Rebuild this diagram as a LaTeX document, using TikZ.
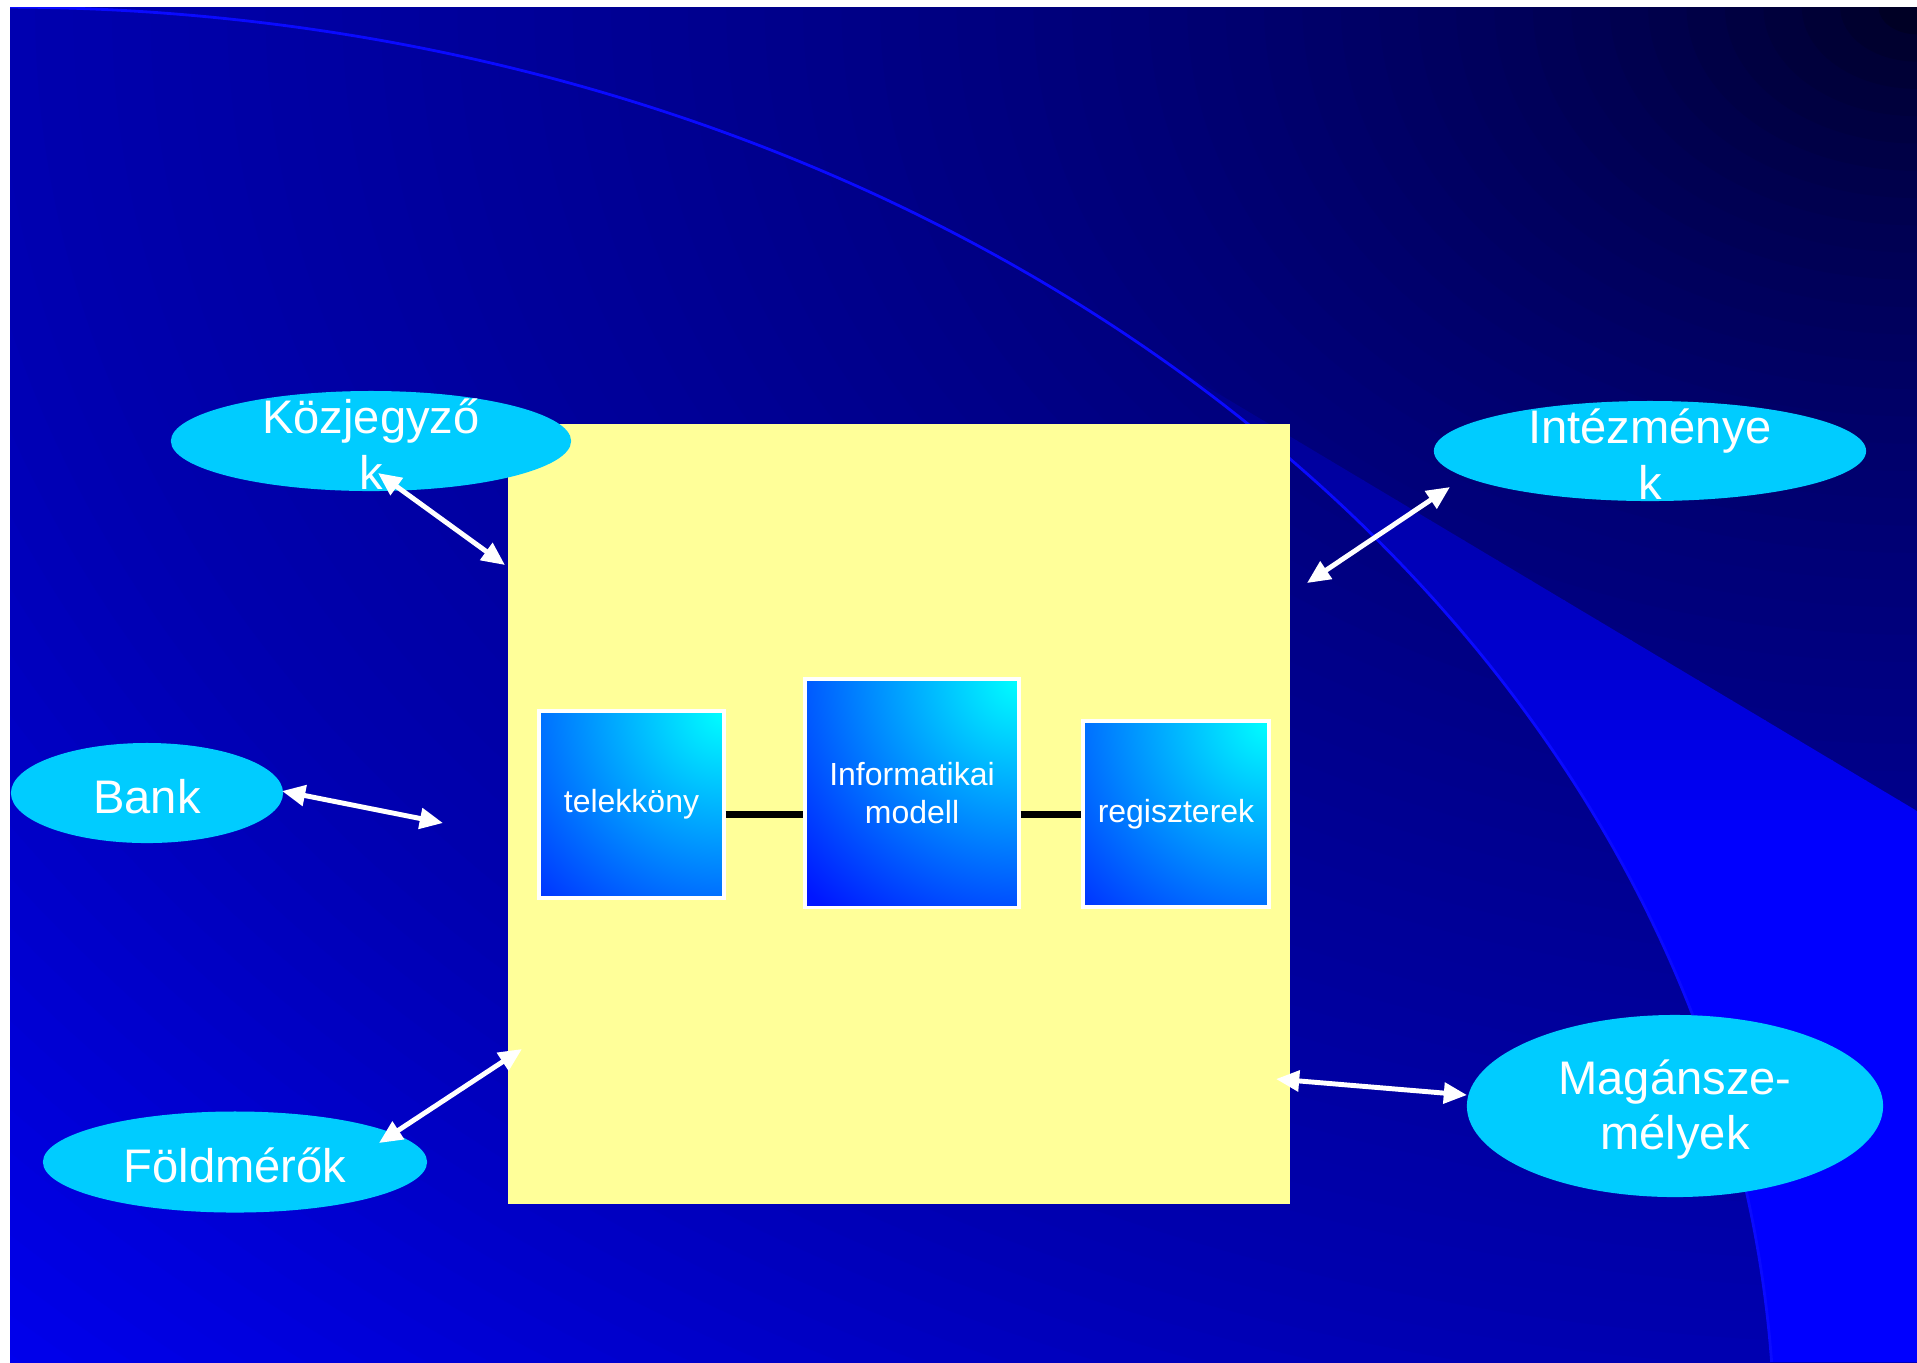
\documentclass[tikz,border=0pt]{standalone}
\usepackage{fontspec}
\setmainfont{Liberation Sans}
\usetikzlibrary{arrows.meta,shapes.geometric}
\definecolor{bubblecol}{RGB}{0,204,255}
\definecolor{panelcol}{RGB}{255,255,153}
\definecolor{boxblue}{RGB}{0,22,255}
\definecolor{boxcyan}{RGB}{0,255,255}
\definecolor{arccol}{RGB}{10,10,255}
\tikzset{
  bubble/.style={ellipse, fill=bubblecol, inner sep=0pt},
  bubbletext/.style={text=white, align=center, inner sep=0pt, yshift=-1pt, font=\fontsize{13.4pt}{15.9pt}\selectfont},
  gbox/.style={rectangle, draw=white, line width=0.9pt, inner sep=0pt, text=white, align=center,
     font=\fontsize{9.1pt}{10.8pt}\selectfont,
     path picture={\fill[boxblue] (path picture bounding box.south west) rectangle (path picture bounding box.north east);
       \shade[inner color=boxcyan, outer color=boxblue] (path picture bounding box.north east) circle (3.0cm);}},
  link/.style={line width=2pt, black},
  dbl/.style={white, line width=1.4pt, {Triangle[length=6.6pt,width=5.8pt]}-{Triangle[length=6.6pt,width=5.8pt]}},
}
\begin{document}
\begin{tikzpicture}[x=0.01cm, y=-0.01cm]
\useasboundingbox (0,0) rectangle (1917,1362);
\fill[white] (0,0) rectangle (1917,1362);
% background
\begin{scope}
\clip (10,7) rectangle (1917,1362);
\foreach \i in {0,...,71}{
  \pgfmathsetmacro\rr{1.45*(1-\i/72)}
  \pgfmathtruncatemacro\bb{ifthenelse(\rr<1, 15+160*sqrt(\rr), min(245,175+146*(\rr-1)))}
  \definecolor{bgc}{RGB}{0,0,\bb}
  \fill[bgc] (1917,7) ellipse [x radius=\rr*1907, y radius=\rr*1355];
}
\begin{scope}
\clip (1771.7,1361.9) arc[start angle=-3.5, end angle=-48.8, x radius=1775, y radius=1443] -- (1917,811) -- (1917,1362) -- cycle;
\foreach \y in {340,360,...,1360}{
  \pgfmathtruncatemacro\wb{min(255,max(140,150+0.25*(\y-420)))}
  \definecolor{wc}{RGB}{0,0,\wb}
  \fill[wc] (1100,\y) rectangle (1917,\y+21);
}
\end{scope}
\draw[arccol, line width=0.8pt] (0,7) arc[start angle=-90, end angle=-3.5, x radius=1775, y radius=1443];
\end{scope}
% panel
\node[rectangle, fill=panelcol, minimum width=7.82cm, minimum height=7.80cm, inner sep=0pt, anchor=north west] (sys) at (507,423) {};
% bubbles
\node[bubble, minimum width=4.0cm, minimum height=1.0cm] (kozj) at (371,441) {};
\node[bubbletext] (kozjT) at (kozj) {Közjegyző\\k};
\node[bubble, minimum width=4.32cm, minimum height=1.0cm] (inte) at (1650,451) {};
\node[bubbletext] (inteT) at (inte) {Intézménye\\k};
\node[bubble, minimum width=2.72cm, minimum height=1.0cm] (bank) at (147,793) {};
\node[bubbletext] (bankT) at (bank) {Bank};
\node[bubble, minimum width=3.84cm, minimum height=1.01cm] (fold) at (235,1162) {};
\node[bubbletext] (foldT) at (fold) {Földmérők};
\node[bubble, minimum width=4.16cm, minimum height=1.82cm] (magan) at (1675,1106) {};
\node[bubbletext] (maganT) at (magan) {Magánsze-\\mélyek};
% arrows
\coordinate (kA) at (378,473); \coordinate (kB) at (505,565);
\coordinate (iA) at (1450,487); \coordinate (iB) at (1307,583);
\coordinate (bA) at (282,791); \coordinate (bB) at (443,823);
\coordinate (fA) at (522,1049); \coordinate (fB) at (379,1143);
\coordinate (mA) at (1276,1079); \coordinate (mB) at (1467,1095);
\draw[dbl] (kA) -- (kB);
\draw[dbl] (iA) -- (iB);
\draw[dbl] (bA) -- (bB);
\draw[dbl] (fA) -- (fB);
\draw[dbl] (mA) -- (mB);
% inner boxes
\node[gbox, minimum width=1.85cm, minimum height=1.87cm] (telek) at (631.5,804.5) {telekköny};
\node[gbox, minimum width=2.14cm, minimum height=2.28cm] (info) at (912,793) {Informatikai\\modell};
\node[gbox, minimum width=1.86cm, minimum height=1.86cm] (reg) at (1176,814) {regiszterek};
\draw[link] (telek.east |- reg) -- (info.west |- reg);
\draw[link] (info.east |- reg) -- (reg.west);
\end{tikzpicture}
\end{document}
